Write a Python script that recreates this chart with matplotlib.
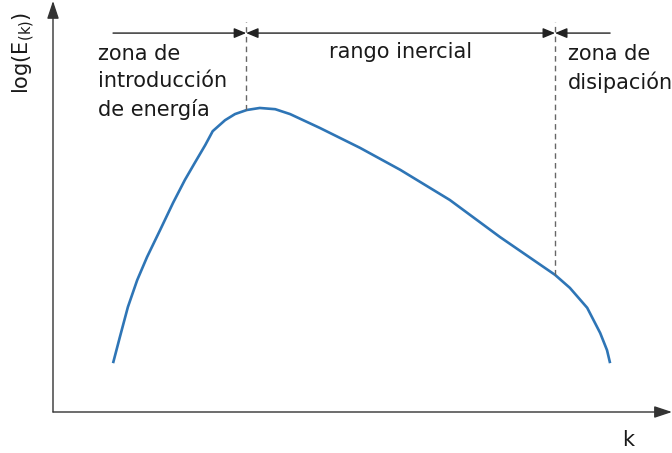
import matplotlib
matplotlib.use('Agg')
import matplotlib.pyplot as plt

# energy spectrum sketch, arbitrary units
k = [0.97, 1.08, 1.21, 1.36, 1.52, 1.73, 1.94, 2.13, 2.29, 2.46, 2.58, 2.78, 2.94,
     3.13, 3.34, 3.59, 3.83, 4.31, 4.96, 5.61, 6.41, 7.22, 8.11, 8.35, 8.63, 8.84,
     8.95, 9.00]
logE = [1.20, 1.84, 2.58, 3.24, 3.81, 4.47, 5.14, 5.70, 6.12, 6.56, 6.90, 7.17, 7.32,
        7.42, 7.47, 7.44, 7.32, 6.98, 6.49, 5.95, 5.21, 4.30, 3.37, 3.05, 2.56, 1.94,
        1.52, 1.20]

k_start, k_inertial, k_dissip, k_end = 0.97, 3.12, 8.11, 9.00
logE_peak, logE_dissip = 7.42, 3.37
y_bracket, y_dash_top = 9.31, 9.58

zone_labels = ['zona de\nintroducción\nde energía', 'rango inercial', 'zona de\ndisipación']

txt = '#1a1a1a'
blue = '#2e75b6'
fs = 15

fig = plt.figure(figsize=(6.72, 4.53), dpi=100)
ax = fig.add_axes([53/672, 41/453, 619/672, 407/453])
ax.set_xlim(0, 10)
ax.set_ylim(0, 10)
ax.axis('off')

# axes drawn as arrows
arr = dict(arrowstyle='-|>,head_length=0.6,head_width=0.2', color='#333333', lw=1.0,
           mutation_scale=18, shrinkA=0, shrinkB=0)
ax.annotate('', xy=(1, 0), xytext=(0, 0), xycoords='axes fraction', arrowprops=arr, annotation_clip=False)
ax.annotate('', xy=(0, 1.01), xytext=(0, 0), xycoords='axes fraction', arrowprops=arr, annotation_clip=False)

ax.plot(k, logE, color=blue, lw=1.9, solid_capstyle='butt', solid_joinstyle='round')

# zone boundaries
ax.plot([k_inertial, k_inertial], [logE_peak, y_dash_top], ls=(0, (4, 3)), color='#666666', lw=1.0)
ax.plot([k_dissip, k_dissip], [logE_dissip, y_dash_top], ls=(0, (4, 3)), color='#666666', lw=1.0)

br = dict(color='#222222', lw=1.0, mutation_scale=12, shrinkA=0, shrinkB=0)
ax.annotate('', xy=(k_inertial, y_bracket), xytext=(k_start, y_bracket),
            arrowprops=dict(arrowstyle='-|>,head_length=0.6,head_width=0.25', **br))
ax.annotate('', xy=(k_dissip, y_bracket), xytext=(k_inertial, y_bracket),
            arrowprops=dict(arrowstyle='<|-|>,head_length=0.6,head_width=0.25', **br))
ax.annotate('', xy=(k_end, y_bracket), xytext=(k_dissip, y_bracket),
            arrowprops=dict(arrowstyle='<|-,head_length=0.6,head_width=0.25', **br))

ax.text(0.72, 9.05, zone_labels[0], fontsize=fs, color=txt, va='top', ha='left', linespacing=1.45)
ax.text(5.61, 8.85, zone_labels[1], fontsize=fs, color=txt, va='center', ha='center')
ax.text(8.32, 9.05, zone_labels[2], fontsize=fs, color=txt, va='top', ha='left', linespacing=1.45)

fig.text(24/672, 1 - 53/453, r'log(E$_{\mathrm{(k)}}$)', fontsize=fs, color=txt,
         rotation=90, ha='center', va='center')
fig.text(628/672, 1 - 440/453, 'k', fontsize=fs, color=txt, ha='center', va='center')

fig.savefig('out.png', dpi=100)
